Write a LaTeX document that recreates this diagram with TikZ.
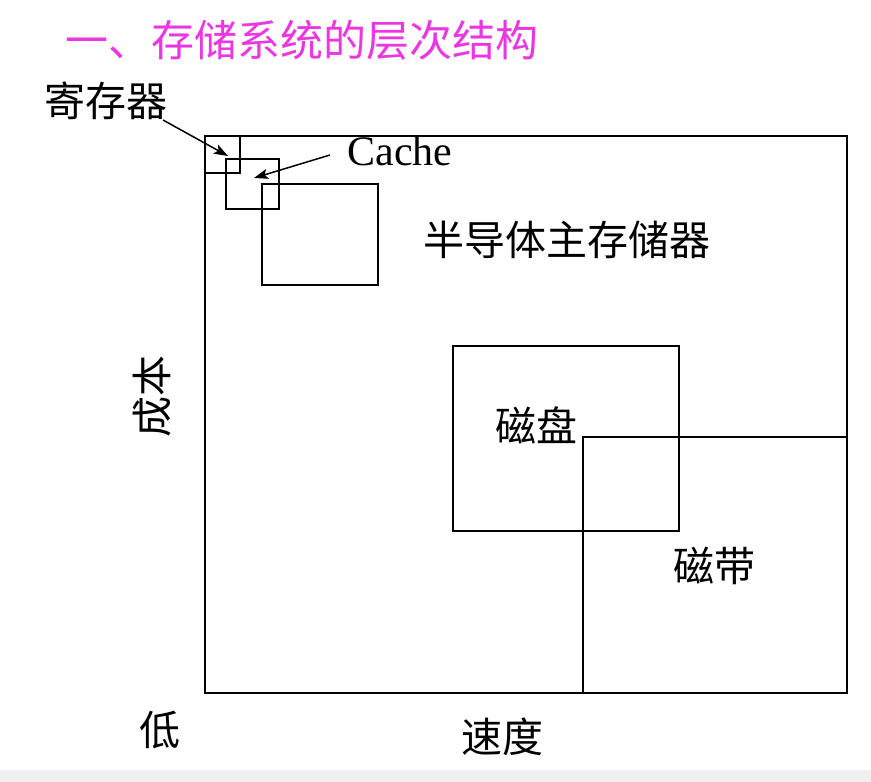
\documentclass[tikz,border=0pt]{standalone}
\usepackage{fontspec}
\setmainfont{Liberation Serif}
\newfontfamily\cjk{Noto Sans CJK SC}
\usetikzlibrary{arrows.meta}
\definecolor{titlecol}{RGB}{235,55,225}
\begin{document}
\begin{tikzpicture}[x=1pt,y=-1pt,
  box/.style={draw, line width=1.3pt, inner sep=0pt, outer sep=0pt},
  lbl/.style={inner sep=0pt, font=\cjk\fontsize{41}{41}\selectfont},
  ttl/.style={inner sep=0pt, text=titlecol, font=\cjk\fontsize{43}{43}\selectfont},
  enlbl/.style={inner sep=0pt, font=\fontsize{42}{42}\selectfont},
  arr/.style={line width=1.5pt, -{Stealth[length=14pt,width=10pt,inset=3pt]}}]
\useasboundingbox (0,0) rectangle (871,782);
\fill[gray!12] (0,770) rectangle (871,782);
% title
\node[ttl] (title) at (302,40) {一、存储系统的层次结构};
% boxes
\node[box, minimum width=642pt, minimum height=557pt] (big) at (526,414.5) {};
\node[box, minimum width=35pt, minimum height=37pt] (reg) at (222.5,154.5) {};
\node[box, minimum width=53pt, minimum height=50pt] (cache) at (252.5,184) {};
\node[box, minimum width=116pt, minimum height=101pt] (mem) at (320,234.5) {};
\node[box, minimum width=226pt, minimum height=185pt] (disk) at (566,438.5) {};
\node[box, minimum width=264pt, minimum height=256pt] (tape) at (715,565) {};
% labels
\node[lbl] (reglbl) at (106,101) {寄存器};
\node[enlbl] (cachelbl) at (400,151) {Cache};
\node[lbl] (memlbl) at (567,240) {半导体主存储器};
\node[lbl] (disklbl) at (536,425) {磁盘};
\node[lbl] (tapelbl) at (714,566) {磁带};
\node[lbl, rotate=90] (cost) at (152,396) {成本};
\node[lbl] (low) at (160,730) {低};
\node[lbl] (speed) at (502,737) {速度};
% arrows
\coordinate (regstart) at (163,120);
\coordinate (regtip) at (228,156);
\coordinate (cachestart) at (330,155);
\coordinate (cachetip) at (254,178);
\draw[arr] (regstart) -- (regtip);
\draw[arr] (cachestart) -- (cachetip);
\end{tikzpicture}
\end{document}
